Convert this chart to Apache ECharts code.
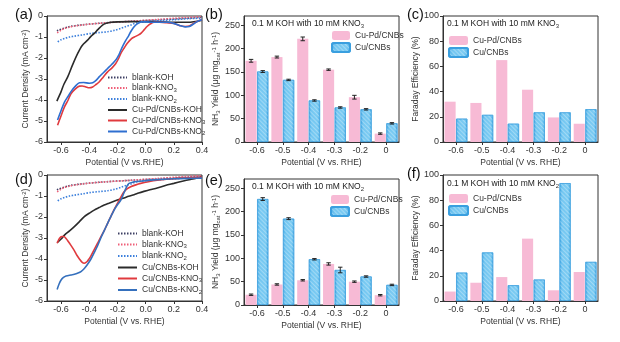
<!DOCTYPE html>
<html><head><meta charset="utf-8">
<script src="https://cdn.jsdelivr.net/npm/echarts@6/dist/echarts.min.js"></script>
<style>html,body{margin:0;padding:0;background:#fff}#c{width:620px;height:342px}</style>
</head><body><div id="c"></div><script>
// ---------- DATA ----------
const potentialTicks = [-0.6, -0.4, -0.2, 0, 0.2, 0.4];
const categories = ['-0.6', '-0.5', '-0.4', '-0.3', '-0.2', '0'];

// (a) LSV curves, Cu-Pd/CNBs
const blankKOH = [[-0.63,-0.7],[-0.55,-0.52],[-0.45,-0.42],[-0.3,-0.33],[-0.1,-0.25],[0.1,-0.18],[0.3,-0.1],[0.4,-0.06]];
const blankKNO3 = [[-0.628,-0.8],[-0.6,-0.68],[-0.576,-0.59],[-0.54,-0.53],[-0.506,-0.48],[-0.45,-0.43],[-0.388,-0.38],[-0.33,-0.35],[-0.27,-0.32],[-0.15,-0.27],[-0.035,-0.22],[0.1,-0.16],[0.2,-0.11],[0.3,-0.07],[0.4,-0.03]];
const blankKNO2 = [[-0.624,-1.23],[-0.6,-1.13],[-0.576,-1.07],[-0.54,-1.0],[-0.506,-0.96],[-0.45,-0.9],[-0.388,-0.83],[-0.33,-0.79],[-0.27,-0.75],[-0.22,-0.68],[-0.176,-0.59],[-0.14,-0.5],[-0.106,-0.43],[-0.08,-0.36],[-0.06,-0.32],[0.0,-0.27],[0.1,-0.22],[0.2,-0.18],[0.3,-0.13],[0.4,-0.1]];
const cupdKOH = [[-0.63,-4.05],[-0.6,-3.6],[-0.58,-3.25],[-0.553,-2.9],[-0.52,-2.35],[-0.482,-1.78],[-0.45,-1.4],[-0.412,-1.15],[-0.39,-0.98],[-0.365,-0.83],[-0.34,-0.65],[-0.306,-0.43],[-0.28,-0.35],[-0.247,-0.3],[-0.2,-0.28],[-0.1,-0.27],[0.0,-0.27],[0.1,-0.28],[0.2,-0.3],[0.3,-0.3],[0.4,-0.2]];
const cupdKNO3 = [[-0.625,-5.2],[-0.6,-4.75],[-0.576,-4.33],[-0.55,-4.0],[-0.53,-3.7],[-0.5,-3.48],[-0.47,-3.34],[-0.45,-3.33],[-0.424,-3.38],[-0.4,-3.42],[-0.376,-3.38],[-0.35,-3.25],[-0.33,-3.14],[-0.3,-2.9],[-0.27,-2.66],[-0.24,-2.48],[-0.212,-2.26],[-0.19,-2.0],[-0.176,-1.78],[-0.15,-1.5],[-0.13,-1.3],[-0.1,-1.08],[-0.08,-1.0],[-0.05,-0.9],[-0.03,-0.8],[-0.01,-0.65],[0.01,-0.5],[0.035,-0.37],[0.06,-0.3],[0.1,-0.3],[0.15,-0.32],[0.2,-0.35],[0.24,-0.45],[0.28,-0.5],[0.31,-0.48],[0.34,-0.35],[0.37,-0.25],[0.4,-0.18]];
const cupdKNO2 = [[-0.625,-4.95],[-0.6,-4.5],[-0.576,-4.1],[-0.55,-3.82],[-0.53,-3.6],[-0.5,-3.35],[-0.47,-3.18],[-0.44,-3.17],[-0.4,-3.2],[-0.376,-3.18],[-0.35,-3.05],[-0.33,-2.9],[-0.3,-2.7],[-0.27,-2.5],[-0.24,-2.3],[-0.212,-2.1],[-0.19,-1.85],[-0.176,-1.63],[-0.16,-1.4],[-0.14,-1.15],[-0.12,-0.93],[-0.106,-0.75],[-0.09,-0.58],[-0.07,-0.43],[-0.05,-0.33],[-0.03,-0.28],[0.0,-0.28],[0.05,-0.3],[0.1,-0.3],[0.15,-0.3],[0.2,-0.35],[0.24,-0.45],[0.28,-0.52],[0.31,-0.5],[0.34,-0.38],[0.37,-0.25],[0.4,-0.18]];

// (d) LSV curves, Cu/CNBs
const cuKOH = [[-0.628,-3.22],[-0.6,-3.05],[-0.576,-2.86],[-0.54,-2.66],[-0.506,-2.46],[-0.47,-2.22],[-0.435,-1.98],[-0.4,-1.82],[-0.365,-1.67],[-0.33,-1.55],[-0.294,-1.43],[-0.26,-1.34],[-0.224,-1.25],[-0.19,-1.17],[-0.153,-1.09],[-0.12,-1.01],[-0.082,-0.94],[-0.05,-0.86],[-0.012,-0.78],[0.03,-0.7],[0.082,-0.62],[0.14,-0.5],[0.2,-0.4],[0.26,-0.3],[0.318,-0.21],[0.36,-0.15],[0.4,-0.11]];
const cuKNO3 = [[-0.628,-3.25],[-0.612,-3.02],[-0.595,-2.93],[-0.58,-2.93],[-0.565,-3.02],[-0.553,-3.13],[-0.53,-3.35],[-0.506,-3.6],[-0.488,-3.82],[-0.47,-4.0],[-0.452,-4.15],[-0.435,-4.2],[-0.415,-4.12],[-0.4,-3.98],[-0.388,-3.85],[-0.365,-3.55],[-0.341,-3.25],[-0.318,-2.95],[-0.294,-2.65],[-0.27,-2.3],[-0.247,-1.98],[-0.224,-1.65],[-0.2,-1.35],[-0.176,-1.05],[-0.153,-0.8],[-0.13,-0.65],[-0.106,-0.56],[-0.07,-0.47],[-0.035,-0.4],[0.02,-0.32],[0.082,-0.25],[0.15,-0.2],[0.25,-0.15],[0.4,-0.11]];
const cuKNO2 = [[-0.628,-5.45],[-0.615,-5.2],[-0.6,-5.0],[-0.583,-4.88],[-0.565,-4.81],[-0.53,-4.76],[-0.506,-4.73],[-0.48,-4.67],[-0.459,-4.6],[-0.435,-4.45],[-0.412,-4.25],[-0.388,-4.0],[-0.365,-3.7],[-0.341,-3.37],[-0.318,-3.0],[-0.294,-2.65],[-0.27,-2.3],[-0.247,-1.98],[-0.224,-1.67],[-0.2,-1.42],[-0.176,-1.2],[-0.16,-0.95],[-0.141,-0.65],[-0.13,-0.5],[-0.118,-0.4],[-0.09,-0.34],[-0.059,-0.31],[0.0,-0.27],[0.082,-0.22],[0.2,-0.18],[0.3,-0.16],[0.4,-0.15]];

// (b) NH3 yield, KNO3
const yieldNO3_CuPd = [174, 182, 221, 155, 96, 18];
const yieldNO3_CuPdErr = [3, 2, 4, 1.5, 4, 1.5];
const yieldNO3_Cu = [151, 133, 89, 74, 70, 40];
const yieldNO3_CuErr = [2, 1.5, 1.5, 1.5, 1.5, 1.5];
// (c) FE, KNO3
const feNO3_CuPd = [32, 31, 65, 41.5, 19.5, 14.5];
const feNO3_Cu = [18.5, 21.5, 14.5, 23.5, 23.5, 26];
// (e) NH3 yield, KNO2
const yieldNO2_CuPd = [22, 44, 53, 88, 50, 21];
const yieldNO2_CuPdErr = [1.5, 1.5, 1.5, 2.5, 1.5, 1.5];
const yieldNO2_Cu = [227, 185, 98, 75, 61, 43];
const yieldNO2_CuErr = [3, 2, 1.5, 6, 1.5, 1.5];
// (f) FE, KNO2
const feNO2_CuPd = [7.5, 14.5, 19, 49.5, 8.5, 23];
const feNO2_Cu = [22.5, 38.5, 12.5, 17, 93.5, 31];

// ---------- STYLE ----------
const FONT = 'Liberation Sans, Arial, sans-serif';
const TXT = '#333';
const rich = {
  sub: {fontSize: 6, fontFamily: FONT, color: TXT, padding: [4, 0, 0, 0]},
  sup: {fontSize: 6, fontFamily: FONT, color: TXT, padding: [0, 0, 4, 0]}
};
const PINK = '#f7bad5';
const BLUE = {type: 'linear', x: 0, y: 0, x2: 1, y2: 0, colorStops: [
  {offset: 0, color: '#48ace6'}, {offset: 0.25, color: '#74c7f1'}, {offset: 0.75, color: '#7ccbf2'}, {offset: 1, color: '#4aaee6'}]};
const BLUE_DECAL = {symbol: 'rect', symbolSize: 1, dashArrayX: [1, 0], dashArrayY: [1, 2], rotation: Math.PI / 4, color: 'rgba(255,255,255,0.3)'};
const BAR_W = 0.43, BAR_GAP = 0.05;
const BAR_OFF = (BAR_W + BAR_W * BAR_GAP) / 2;

const grids = [
  {left: 47, top: 16, width: 155, height: 126},
  {left: 244, top: 16, width: 155, height: 126},
  {left: 443, top: 16, width: 155, height: 126},
  {left: 47, top: 175, width: 155, height: 126},
  {left: 244, top: 179, width: 155, height: 126},
  {left: 443, top: 175, width: 155, height: 126}
].map(g => Object.assign({show: true, borderColor: '#333', borderWidth: 1, containLabel: false}, g));

const axLine = {show: true, onZero: false, lineStyle: {color: '#333', width: 1}};
const axTick = {show: true, length: 3, lineStyle: {color: '#333'}};
const lblStyle = {fontSize: 9, color: TXT, fontFamily: FONT};
const nameStyle = {fontSize: 8.5, color: TXT, fontFamily: FONT, rich: rich};

function potAxis(gi, name) {
  return {type: 'value', gridIndex: gi, min: -0.7, max: 0.4, name: name, nameLocation: 'middle', nameGap: 16,
    nameTextStyle: nameStyle, axisLine: axLine, splitLine: {show: false},
    axisTick: Object.assign({customValues: potentialTicks}, axTick),
    axisLabel: Object.assign({customValues: potentialTicks, margin: 4, formatter: v => v.toFixed(1)}, lblStyle)};
}
function catAxis(gi) {
  return {type: 'category', gridIndex: gi, data: categories, name: 'Potential (V vs. RHE)', nameLocation: 'middle', nameGap: 16,
    nameTextStyle: nameStyle, axisLine: axLine, axisTick: Object.assign({alignWithLabel: true}, axTick), splitLine: {show: false},
    axisLabel: Object.assign({margin: 4}, lblStyle)};
}
function valAxis(gi, min, max, interval, name, gap, showMax) {
  return {type: 'value', gridIndex: gi, min: min, max: max, interval: interval, name: name, nameLocation: 'middle', nameGap: gap,
    nameTextStyle: nameStyle, axisLine: axLine, axisTick: axTick, splitLine: {show: false},
    axisLabel: Object.assign({margin: 4, showMaxLabel: showMax}, lblStyle)};
}

const xAxes = [potAxis(0, 'Potential (V vs.RHE)'), catAxis(1), catAxis(2), potAxis(3, 'Potential (V vs. RHE)'), catAxis(4), catAxis(5)];
const yAxes = [
  valAxis(0, -6, 0, 1, 'Current Density (mA cm{sup|-2})', 16, true),
  valAxis(1, 0, 270, 50, 'NH{sub|3} Yield (μg mg{sub|cat}{sup|-1} h{sup|-1})', 18, false),
  valAxis(2, 0, 100, 20, 'Faraday Efficiency (%)', 18, true),
  valAxis(3, -6, 0, 1, 'Current Density (mA cm{sup|-2})', 16, true),
  valAxis(4, 0, 270, 50, 'NH{sub|3} Yield (μg mg{sub|cat}{sup|-1} h{sup|-1})', 18, false),
  valAxis(5, 0, 100, 20, 'Faraday Efficiency (%)', 18, true)
];

function line(gi, name, data, color, dotted, width) {
  return {type: 'line', name: name, xAxisIndex: gi, yAxisIndex: gi, data: data, symbol: 'none', showSymbol: false, smooth: 0.3,
    lineStyle: {color: color, width: width || 1.6, type: dotted ? [1.5, 1.5] : 'solid'}, itemStyle: {color: color}, z: dotted ? 2 : 3, silent: true};
}
function bars(gi, name, data, isBlue) {
  return {type: 'bar', name: name, xAxisIndex: gi, yAxisIndex: gi, data: data, barWidth: (BAR_W * 100) + '%', barGap: (BAR_GAP * 100) + '%',
    itemStyle: isBlue ? {color: BLUE, borderColor: '#3a9fdf', borderWidth: 0.6, decal: BLUE_DECAL} : {color: PINK}, silent: true};
}
function errs(gi, vals, errv, side) {
  return {type: 'custom', xAxisIndex: gi, yAxisIndex: gi, z: 6, silent: true,
    data: vals.map((v, i) => [i, v, errv[i]]),
    renderItem: function (params, api) {
      const band = api.size([1, 0])[0];
      const c = api.coord([api.value(0), api.value(1)]);
      const hi = api.coord([api.value(0), api.value(1) + api.value(2)]);
      const lo = api.coord([api.value(0), api.value(1) - api.value(2)]);
      const x = c[0] + side * band * BAR_OFF, w = 2.2;
      const st = {stroke: '#222', lineWidth: 1};
      return {type: 'group', children: [
        {type: 'line', shape: {x1: x, y1: hi[1], x2: x, y2: lo[1]}, style: st},
        {type: 'line', shape: {x1: x - w, y1: hi[1], x2: x + w, y2: hi[1]}, style: st},
        {type: 'line', shape: {x1: x - w, y1: lo[1], x2: x + w, y2: lo[1]}, style: st}
      ]};
    }};
}

const C_BLK = '#2b2b2b', C_RED = '#e03a3e', C_BLU = '#2f6fd0';
const C_DBLK = '#3c3f63', C_DRED = '#ef5f78', C_DBLU = '#3d80dc';

const series = [
  line(0, 'blank-KOH', blankKOH, C_DBLK, true), line(0, 'blank-KNO3', blankKNO3, C_DRED, true), line(0, 'blank-KNO2', blankKNO2, C_DBLU, true),
  line(0, 'Cu-Pd/CNBs-KOH', cupdKOH, C_BLK), line(0, 'Cu-Pd/CNBs-KNO3', cupdKNO3, C_RED), line(0, 'Cu-Pd/CNBs-KNO2', cupdKNO2, C_BLU),
  line(3, 'blank-KOH', blankKOH, C_DBLK, true), line(3, 'blank-KNO3', blankKNO3, C_DRED, true), line(3, 'blank-KNO2', blankKNO2, C_DBLU, true),
  line(3, 'Cu/CNBs-KOH', cuKOH, C_BLK), line(3, 'Cu/CNBs-KNO3', cuKNO3, C_RED), line(3, 'Cu/CNBs-KNO2', cuKNO2, '#3570bd'),
  bars(1, 'Cu-Pd/CNBs', yieldNO3_CuPd, false), bars(1, 'Cu/CNBs', yieldNO3_Cu, true),
  errs(1, yieldNO3_CuPd, yieldNO3_CuPdErr, -1), errs(1, yieldNO3_Cu, yieldNO3_CuErr, 1),
  bars(2, 'Cu-Pd/CNBs', feNO3_CuPd, false), bars(2, 'Cu/CNBs', feNO3_Cu, true),
  bars(4, 'Cu-Pd/CNBs', yieldNO2_CuPd, false), bars(4, 'Cu/CNBs', yieldNO2_Cu, true),
  errs(4, yieldNO2_CuPd, yieldNO2_CuPdErr, -1), errs(4, yieldNO2_Cu, yieldNO2_CuErr, 1),
  bars(5, 'Cu-Pd/CNBs', feNO2_CuPd, false), bars(5, 'Cu/CNBs', feNO2_Cu, true)
];

const legTxt = {fontSize: 8.5, color: TXT, fontFamily: FONT, rich: rich};
const legFmt = n => n.replace(/(KNO)(\d)$/, '$1{sub|$2}');
function legend(names, left, top, gap, iw, ih, isLine) {
  const l = {orient: 'vertical', left: left, top: top, padding: 0, itemGap: gap, itemWidth: iw, itemHeight: ih,
    data: names, formatter: legFmt, textStyle: legTxt, selectedMode: false};
  if (isLine) l.itemStyle = {opacity: 0};
  return l;
}
const legends = [
  legend(['blank-KOH', 'blank-KNO3', 'blank-KNO2', 'Cu-Pd/CNBs-KOH', 'Cu-Pd/CNBs-KNO3', 'Cu-Pd/CNBs-KNO2'], 107, 73, 1.5, 19, 9, true),
  legend(['blank-KOH', 'blank-KNO3', 'blank-KNO2', 'Cu/CNBs-KOH', 'Cu/CNBs-KNO3', 'Cu/CNBs-KNO2'], 117, 229, 2, 19, 9, true),
  legend(['Cu-Pd/CNBs', 'Cu/CNBs'], 331, 31, 2, 18, 9),
  legend(['Cu-Pd/CNBs', 'Cu/CNBs'], 448, 36, 2, 19, 9),
  legend(['Cu-Pd/CNBs', 'Cu/CNBs'], 330, 195, 2, 18, 9),
  legend(['Cu-Pd/CNBs', 'Cu/CNBs'], 448, 194, 2, 19, 9)
];

const annTxt = {fontSize: 8.5, color: '#222', fontFamily: FONT, fontWeight: 'normal', rich: rich};
const panTxt = {fontSize: 14.5, color: '#111', fontFamily: FONT, fontWeight: 'normal'};
const titles = [
  {text: '(a)', left: 15, top: 7, padding: 0, textStyle: panTxt},
  {text: '(b)', left: 205, top: 7, padding: 0, textStyle: panTxt},
  {text: '(c)', left: 407, top: 7, padding: 0, textStyle: panTxt},
  {text: '(d)', left: 15, top: 172, padding: 0, textStyle: panTxt},
  {text: '(e)', left: 205, top: 173, padding: 0, textStyle: panTxt},
  {text: '(f)', left: 407, top: 166, padding: 0, textStyle: panTxt},
  {text: '0.1 M KOH with 10 mM KNO{sub|3}', left: 252, top: 19, padding: 0, textStyle: annTxt},
  {text: '0.1 M KOH with 10 mM KNO{sub|3}', left: 447, top: 19, padding: 0, textStyle: annTxt},
  {text: '0.1 M KOH with 10 mM KNO{sub|2}', left: 252, top: 182, padding: 0, textStyle: annTxt},
  {text: '0.1 M KOH with 10 mM KNO{sub|2}', left: 447, top: 179, padding: 0, textStyle: annTxt}
];

const chart = echarts.init(document.getElementById('c'), null, {renderer: 'canvas'});
chart.setOption({
  backgroundColor: '#fff', animation: false,
  textStyle: {fontFamily: FONT},
  title: titles, legend: legends, grid: grids, xAxis: xAxes, yAxis: yAxes, series: series
});
</script></body></html>
